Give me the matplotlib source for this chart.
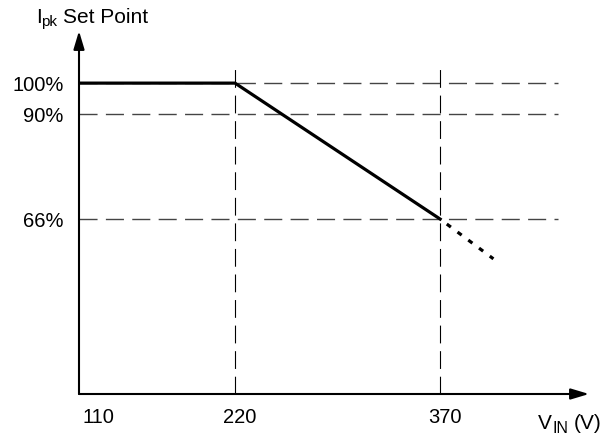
import numpy as np
import matplotlib
matplotlib.use('Agg')
from matplotlib import pyplot as plt
from matplotlib.transforms import ScaledTranslation

plt.rcParams['font.family'] = ['Liberation Sans', 'DejaVu Sans']

vin_ticks = [110, 220, 370]
vin_labels = ['110', '220', '370']
ipk_ticks = [100, 90, 66]
ipk_labels = ['100%', '90%', '66%']
curve_vin = [110, 220, 370]
curve_ipk = [100, 100, 66]
ext_vin = [370, 409]
ext_ipk = [66, 51]

# the drawing is not to scale, so use piecewise scales
xk = [0, 110, 220, 370, 600]
xp = [-156, 0, 156, 361, 675]
yk = [0, 66, 90, 100, 200]
yp = [0, 175, 280, 311, 641]

def xf(v):
    return np.interp(v, xk, xp)

def xi(u):
    return np.interp(u, xp, xk)

def yf(v):
    return np.interp(v, yk, yp)

def yi(u):
    return np.interp(u, yp, yk)

W, H = 614, 438
fig = plt.figure(figsize=(W / 100, H / 100), dpi=100)
ax = fig.add_axes([79 / W, 44 / H, 510 / W, 363 / H])
ax.set_xscale('function', functions=(xf, xi))
ax.set_yscale('function', functions=(yf, yi))
ax.set_xlim(110, 479)
ax.set_ylim(0, 115.8)

for s in ax.spines.values():
    s.set_visible(False)

# reference lines
for v in ipk_ticks:
    ax.plot([110, 456], [v, v], color='#444444', lw=1.0, dashes=(13, 6), zorder=1)
for v in vin_ticks[1:]:
    ax.plot([v, v], [0, 104.8], color='black', lw=0.8, dashes=(16, 7), zorder=1)

# set point curve
ax.plot(curve_vin, curve_ipk, color='black', lw=2.3, solid_joinstyle='miter', zorder=3)
ax.plot(ext_vin, ext_ipk, color='black', lw=2.3, linestyle=(1.6, (1.6, 2.6)),
        dash_capstyle='butt', zorder=3)

# axes with arrows
arrow = dict(arrowstyle='-|>,head_length=1.1,head_width=0.33', color='black',
             lw=1.5, shrinkA=0, shrinkB=0, mutation_scale=10)
ax.annotate('', xy=(1, 0), xytext=(0, 0), xycoords='axes fraction',
            textcoords='axes fraction', arrowprops=arrow, zorder=4)
ax.annotate('', xy=(0, 1), xytext=(0, 0), xycoords='axes fraction',
            textcoords='axes fraction', arrowprops=arrow, zorder=4)

ax.set_xticks(vin_ticks, vin_labels)
ax.set_yticks(ipk_ticks, ipk_labels)
ax.tick_params(axis='both', length=0, labelsize=14.5)
ax.tick_params(axis='x', pad=10)
ax.tick_params(axis='y', pad=11)
shift = ScaledTranslation(5 / 100, 0, fig.dpi_scale_trans)
for i, lab in enumerate(ax.get_xticklabels()):
    lab.set_transform(lab.get_transform() + shift)
    if i == 0:
        lab.set_horizontalalignment('left')
        lab.set_transform(lab.get_transform() + ScaledTranslation(-1 / 100, 0, fig.dpi_scale_trans))

# axis titles with subscripts
fig.text(36 / W, 1 - 23 / H, 'I', fontsize=15, ha='left', va='baseline')
fig.text(41 / W, 1 - 26 / H, 'pk', fontsize=11, ha='left', va='baseline')
fig.text(63 / W, 1 - 23 / H, 'Set Point', fontsize=15, ha='left', va='baseline')

fig.text(538 / W, 1 - 429 / H, 'V', fontsize=15, ha='left', va='baseline')
fig.text(553 / W, 1 - 433 / H, 'IN', fontsize=11.5, ha='left', va='baseline')
fig.text(574 / W, 1 - 429 / H, '(V)', fontsize=15, ha='left', va='baseline')

fig.savefig('out.png', dpi=100)
